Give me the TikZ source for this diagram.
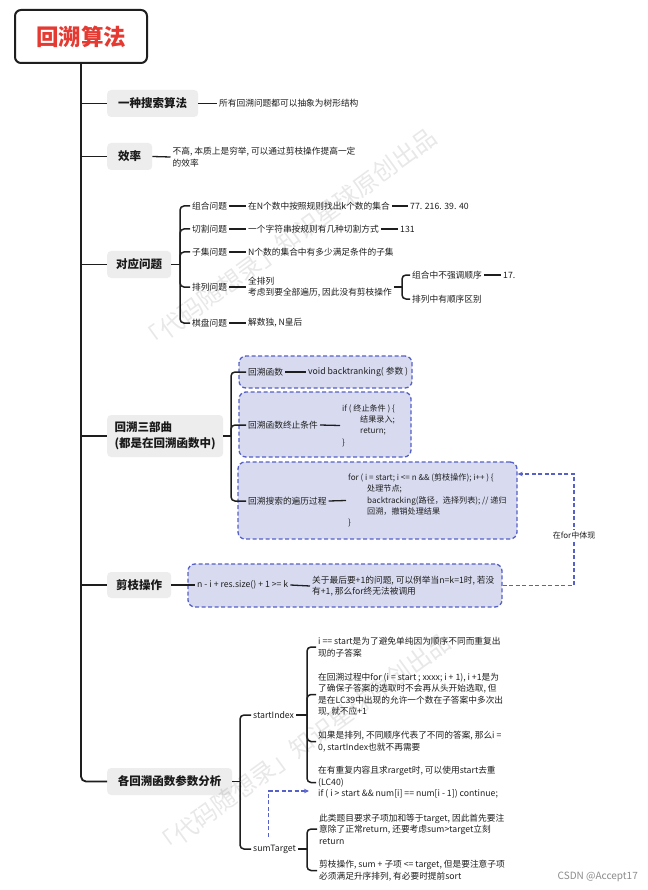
\documentclass[tikz,border=0pt]{standalone}
\usepackage{fontspec}
\setmainfont{Noto Sans CJK SC}
\usetikzlibrary{arrows.meta}
\definecolor{lnk}{HTML}{1E1E1E}
\definecolor{boxgray}{HTML}{EDEDED}
\definecolor{dashfill}{HTML}{D8DBF0}
\definecolor{dashblue}{HTML}{5560C8}
\definecolor{rootred}{HTML}{E53A32}
\begin{document}
\begin{tikzpicture}[x=1pt,y=-1pt,
  rootbox/.style={draw=lnk, line width=2pt, fill=white, rounded corners=6pt, minimum width=132pt, minimum height=53pt, text=rootred, font=\fontsize{22.5}{26}\selectfont\bfseries},
  topic/.style={fill=boxgray, rounded corners=4pt, font=\fontsize{11.5}{16}\selectfont\bfseries, inner sep=0pt, anchor=west, minimum height=27pt, text=black!90},
  txt/.style={font=\fontsize{8.7}{11.5}\selectfont, inner sep=2pt, anchor=west, align=left, text=black!88},
  code/.style={txt, font=\fontsize{8.1}{11.3}\selectfont},
  trunk/.style={draw=lnk, line width=1.8pt, rounded corners=5pt},
  brk/.style={draw=lnk, line width=1.5pt, rounded corners=4pt},
  tie/.style={draw=lnk, line width=1.3pt},
  dbox/.style={draw=dashblue, fill=dashfill, dash pattern=on 4pt off 2.5pt, line width=1.3pt, rounded corners=7pt, inner sep=0pt},
  rel/.style={draw=dashblue, dash pattern=on 4pt off 2.5pt, line width=1.2pt, -{Stealth[length=5pt,width=4.5pt]}},
  wmark/.style={font=\fontsize{24}{24}\selectfont, text=black, opacity=0.09, rotate=36}
]
\useasboundingbox (0,0) rectangle (647,890);
\fill[white] (0,0) rectangle (647,890);

% root
\node[rootbox] (root) at (81,36.5) {回溯算法};

% topic 1
\node[topic, minimum width=91pt] (t1) at (107,103.5) {一种搜索算法};
\node[txt] (t1a) at (217,103.5) {所有回溯问题都可以抽象为树形结构};
% topic 2
\node[topic, minimum width=45pt] (t2) at (107,156.5) {效率};
\node[txt] (t2a) at (170.5,157) {不高, 本质上是穷举, 可以通过剪枝操作提高一定\\的效率};
% topic 3
\node[topic, minimum width=64pt] (t3) at (107,264.5) {对应问题};
\node[txt] (c31) at (190,206) {组合问题};
\node[txt] (c31a) at (246,206) {在N个数中按照规则找出k个数的集合};
\node[txt] (c31b) at (408,206) {77. 216. 39. 40};
\node[txt] (c32) at (190,229) {切割问题};
\node[txt] (c32a) at (246,229) {一个字符串按规则有几种切割方式};
\node[txt] (c32b) at (398,229) {131};
\node[txt] (c33) at (190,252) {子集问题};
\node[txt] (c33a) at (246,252) {N个数的集合中有多少满足条件的子集};
\node[txt] (c34) at (190,287) {排列问题};
\node[txt] (c34a) at (246,287) {全排列\\考虑到要全部遍历, 因此没有剪枝操作};
\node[txt] (c34b) at (410,275) {组合中不强调顺序};
\node[txt] (c34c) at (501,275) {17.};
\node[txt] (c34d) at (410,299) {排列中有顺序区别};
\node[txt] (c35) at (190,323) {棋盘问题};
\node[txt] (c35a) at (246,323) {解数独, N皇后};

% topic 4
\node[topic, minimum width=116pt, minimum height=42pt, align=left] (t4) at (107,436) {回溯三部曲\\(都是在回溯函数中)};
\node[dbox, minimum width=173pt, minimum height=32pt] (DA) at (325.5,372) {};
\node[dbox, minimum width=172pt, minimum height=65pt] (DB) at (325,424.5) {};
\node[dbox, minimum width=279pt, minimum height=77pt] (DC) at (377.5,500.5) {};
\node[txt] (a1) at (246,372) {回溯函数};
\node[txt] (a2) at (306,372) {void backtranking( 参数 )};
\node[txt] (b1) at (246,425) {回溯函数终止条件};
\node[code] (b2) at (340,425.5) {if ( 终止条件 ) \{\\\hspace*{18pt}结果录入;\\\hspace*{18pt}return;\\\}};
\node[txt] (e1) at (246,501) {回溯搜索的遍历过程};
\node[code] (e2) at (346,500.5) {for ( i = start; i <= n \&\& (剪枝操作); i++ ) \{\\\hspace*{19pt}处理节点;\\\hspace*{19pt}backtracking(路径，选择列表); // 递归\\\hspace*{19pt}回溯，撤销处理结果\\\}};

% topic 5
\node[topic, minimum width=64pt, minimum height=26pt] (t5) at (107,585) {剪枝操作};
\node[dbox, minimum width=314pt, minimum height=43pt] (DD) at (345,585.5) {};
\node[txt] (d1) at (195,585) {n - i + res.size() + 1 >= k};
\node[txt, font=\fontsize{8.7}{11}\selectfont] (d2) at (310,586) {关于最后要+1的问题, 可以例举当n=k=1时, 若没\\有+1, 那么for终无法被调用};

% topic 6
\node[topic, minimum width=125pt] (t6) at (107,781.5) {各回溯函数参数分析};
\node[txt] (s1) at (251,715) {startIndex};
\node[txt] (s2) at (251,849) {sumTarget};
\node[txt] (u1) at (316,647) {i == start是为了避免单纯因为顺序不同而重复出\\现的子答案};
\node[txt] (u2) at (316,694.5) {在回溯过程中for (i = start ; xxxx; i + 1), i +1是为\\了确保子答案的选取时不会再从头开始选取, 但\\是在LC39中出现的允许一个数在子答案中多次出\\现, 就不应+1};
\node[txt] (u3) at (316,741.5) {如果是排列, 不同顺序代表了不同的答案, 那么i =\\0, startIndex也就不再需要};
\node[txt] (u4) at (316,782.5) {在有重复内容且求rarget时, 可以使用start去重\\(LC40)\\if ( i > start \&\& num[i] == num[i - 1]) continue;};
\node[txt] (v1) at (317,829) {此类题目要求子项加和等于target, 因此首先要注\\意除了正常return, 还要考虑sum>target立刻\\return};
\node[txt] (v2) at (317,870.5) {剪枝操作, sum + 子项 <= target, 但是要注意子项\\必须满足升序排列, 有必要时提前sort};

% trunk
\draw[trunk] (root.south) |- (t6.west);
\foreach \t in {t1,t2,t3,t4,t5} \draw[trunk] (root.south |- \t.west) -- (\t.west);

% topic1/2 ties
\draw[tie] (t1.east) -- (t1a.west);
\draw[tie] (t2.east) -- (t2a.west);

% topic 3 bracket
\coordinate (b3) at (180,264.5);
\draw[brk] (t3.east) -- (b3);
\foreach \c in {c31,c32,c33,c34,c35} \draw[brk] (b3) |- (\c.west);
\draw[tie] (c31.east) -- (c31a.west);
\draw[tie] (c31a.east) -- (c31b.west);
\draw[tie] (c32.east) -- (c32a.west);
\draw[tie] (c32a.east) -- (c32b.west);
\draw[tie] (c33.east) -- (c33a.west);
\draw[tie] (c34.east) -- (c34a.west);
\draw[tie] (c35.east) -- (c35a.west);
\coordinate (b34) at (402,287);
\draw[tie] (c34a.east) -- (b34);
\draw[brk] (b34) |- (c34b.west);
\draw[brk] (b34) |- (c34d.west);
\draw[tie] (c34b.east) -- (c34c.west);

% topic 4 bracket
\coordinate (b4) at (231,436);
\draw[brk] (t4.east) -- (b4);
\foreach \c in {a1,b1,e1} \draw[brk] (b4) |- (\c.west);
\draw[tie] (a1.east) -- (a2.west);
\draw[tie] (b1.east) -- (b2.west);
\draw[tie] (e1.east) -- (e2.west);

% topic 5
\draw[tie] (t5.east) -- (d1.west);
\draw[tie] (d1.east) -- (d2.west);
\coordinate (rx) at (574,0);
\draw[rel] (DD.east) -- (DD.east -| rx) |- ([yshift=26.5pt]DC.east);
\node[txt, anchor=center, fill=white, inner sep=1pt, font=\fontsize{8}{10}\selectfont] (rl) at (574,535) {在for中体现};

% topic 6
\coordinate (b6) at (240,781.5);
\draw[brk] (t6.east) -- (b6);
\draw[brk] (b6) |- (s1.west);
\draw[brk] (b6) |- (s2.west);
\coordinate (b61) at (307,715);
\draw[tie] (s1.east) -- (b61);
\foreach \c in {u1,u2,u3,u4} \draw[brk] (b61) |- (\c.west);
\coordinate (b62) at (307,849);
\draw[tie] (s2.east) -- (b62);
\draw[brk] (b62) |- (v1.west);
\draw[brk] (b62) |- (v2.west);
\draw[rel] ([xshift=-6pt,yshift=6pt]s2.north) |- ([xshift=-7pt,yshift=-8.5pt]u4.west);

% watermarks and credit
\node[wmark] (w1) at (288,240) {「代码随想录」知识星球原创出品};
\node[wmark] (w2) at (302,745) {「代码随想录」知识星球原创出品};
\node[anchor=east, text=black!45, font=\fontsize{10}{12}\selectfont, inner sep=0pt] (csdn) at (638,877) {CSDN @Accept17};
\end{tikzpicture}
\end{document}
